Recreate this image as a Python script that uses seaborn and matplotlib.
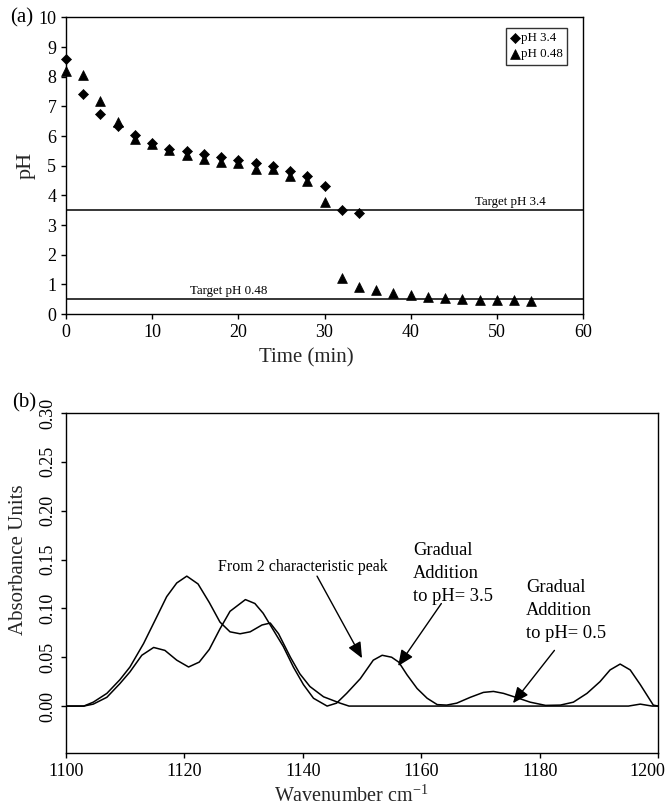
"""
Two-panel figure: (a) pH vs time for two titration targets,
(b) IR absorbance spectra for the two gradual additions.
"""
import numpy as np
import seaborn as sns
import matplotlib.pyplot as plt
from matplotlib.transforms import ScaledTranslation

# (a) pH vs time
TIME_34 = [0, 2, 4, 6, 8, 10, 12, 14, 16, 18, 20, 22, 24, 26, 28, 30, 32, 34]
PH_34 = [8.59, 7.41, 6.75, 6.35, 6.03, 5.76, 5.57, 5.51, 5.40, 5.29, 5.21,
         5.10, 4.99, 4.81, 4.65, 4.32, 3.51, 3.42]

TIME_048 = [0, 2, 4, 6, 8, 10, 12, 14, 16, 18, 20, 22, 24, 26, 28, 30,
            32, 34, 36, 38, 40, 42, 44, 46, 48, 50, 52, 54]
PH_048 = [8.19, 8.05, 7.19, 6.46, 5.91, 5.72, 5.54, 5.36, 5.22, 5.14, 5.08,
          4.88, 4.88, 4.66, 4.47, 3.79, 1.21, 0.91, 0.80, 0.71, 0.63, 0.58,
          0.54, 0.50, 0.48, 0.48, 0.47, 0.44]

TARGETS = [3.5, 0.5]
TARGET_LABELS = ["Target pH 3.4", "Target pH 0.48"]

# (b) spectra
WN_A = [1100, 1103, 1104.6, 1106.9, 1109.1, 1110.8, 1113.1, 1115.3, 1117.0,
        1118.7, 1120.4, 1122.3, 1124.2, 1126.0, 1127.7, 1129.4, 1131.1, 1133.1,
        1134.5, 1135.9, 1137.9, 1139.5, 1141.2, 1143.5, 1146.3, 1147.8, 1160,
        1180, 1195, 1197, 1199, 1200]
ABS_A = [0, 0, 0.004, 0.013, 0.027, 0.040, 0.064, 0.091, 0.112, 0.126, 0.133,
         0.125, 0.106, 0.086, 0.076, 0.074, 0.076, 0.083, 0.085, 0.074, 0.050,
         0.033, 0.020, 0.0095, 0.003, 0.0, 0.0, 0.0, 0.0, 0.002, 0.0, 0.0]

WN_B = [1100, 1103, 1104.6, 1106.9, 1109.1, 1110.8, 1112.8, 1114.8, 1116.7,
        1118.7, 1120.7, 1122.5, 1124.2, 1126.0, 1127.7, 1130.3, 1131.9, 1133.3,
        1135.0, 1136.7, 1138.4, 1140.1, 1141.8, 1144.1, 1145.7, 1147.4, 1149.7,
        1151.9, 1153.4, 1155.0, 1156.2, 1157.6, 1159.3, 1161.0, 1162.7, 1164.3,
        1166.0, 1168.3, 1170.5, 1172.2, 1173.9, 1176.2, 1178.4, 1181.0, 1183.5,
        1185.7, 1188.0, 1190.2, 1191.9, 1193.6, 1195.3, 1197.0, 1199.2, 1200]
ABS_B = [0, 0, 0.002, 0.009, 0.023, 0.035, 0.052, 0.060, 0.057, 0.047, 0.040,
         0.045, 0.058, 0.079, 0.097, 0.109, 0.105, 0.095, 0.078, 0.061, 0.040,
         0.022, 0.008, 0.0, 0.003, 0.013, 0.028, 0.047, 0.052, 0.050, 0.045,
         0.032, 0.018, 0.008, 0.0015, 0.001, 0.003, 0.009, 0.014, 0.015, 0.013,
         0.0085, 0.004, 0.0007, 0.001, 0.004, 0.013, 0.025, 0.037, 0.043, 0.037,
         0.022, 0.001, 0.0]


def style_axes(ax):
    for sp in ax.spines.values():
        sp.set_visible(True)
        sp.set_color("black")
        sp.set_linewidth(1.0)
    ax.tick_params(direction="out", length=3.5, width=1.0, color="black",
                   labelsize=13, labelcolor="black")


def main():
    sns.set_theme(style="ticks")
    plt.rcParams["font.family"] = ["Liberation Serif", "DejaVu Serif"]
    plt.rcParams["mathtext.default"] = "regular"
    plt.rcParams["text.color"] = "black"

    fig = plt.figure(figsize=(6.69, 8.06), dpi=100)
    ax1 = fig.add_axes([0.0987, 0.6104, 0.7728, 0.3679])
    ax2 = fig.add_axes([0.0987, 0.0658, 0.8849, 0.4218])

    # ---- panel (a)
    for y in TARGETS:
        ax1.axhline(y, color="black", lw=1.1, zorder=1)
    sns.scatterplot(x=TIME_34, y=PH_34, marker="D", s=26, color="black",
                    edgecolor="black", linewidth=0.5, label="pH 3.4",
                    clip_on=False, zorder=3, ax=ax1)
    sns.scatterplot(x=TIME_048, y=PH_048, marker="^", s=50, color="black",
                    edgecolor="black", linewidth=0.5, label="pH 0.48",
                    clip_on=False, zorder=3, ax=ax1)
    ax1.text(51.6, 3.78, TARGET_LABELS[0], fontsize=9.3, ha="center", va="center")
    ax1.text(18.9, 0.78, TARGET_LABELS[1], fontsize=9.3, ha="center", va="center")

    ax1.set_xlim(0, 60)
    ax1.set_ylim(0, 10)
    ax1.set_xticks(np.arange(0, 61, 10))
    ax1.set_yticks(np.arange(0, 11, 1))
    style_axes(ax1)
    ax1.set_xlabel("Time (min)", fontsize=15)
    ax1.set_ylabel("pH", fontsize=16)
    ax1.xaxis.set_label_coords(0.464, -0.115)
    ax1.yaxis.set_label_coords(-0.058, 0.5)
    leg = ax1.legend(loc="upper right", bbox_to_anchor=(0.969, 0.965),
                     fontsize=9.3, frameon=True, fancybox=False,
                     handlelength=0.6, handletextpad=0.15, borderpad=0.35,
                     labelspacing=0.3, borderaxespad=0)
    leg.get_frame().set_edgecolor("black")
    leg.get_frame().set_linewidth(1.0)

    # ---- panel (b)
    sns.lineplot(x=WN_A, y=ABS_A, color="black", lw=1.1, ax=ax2)
    sns.lineplot(x=WN_B, y=ABS_B, color="black", lw=1.1, ax=ax2)

    arrow = dict(arrowstyle="-|>,head_length=0.8,head_width=0.35",
                 color="black", lw=1.0, mutation_scale=12, shrinkA=0, shrinkB=0)
    ax2.text(1125.7, 0.142, "From 2 characteristic peak", fontsize=11.5,
             ha="left", va="center")
    ax2.annotate("", xy=(1150.0, 0.049), xytext=(1142.4, 0.133), arrowprops=arrow)
    ax2.text(1158.6, 0.136, "Gradual\nAddition\nto pH= 3.5", fontsize=13.3,
             ha="left", va="center", linespacing=1.45)
    ax2.annotate("", xy=(1156.1, 0.041), xytext=(1163.4, 0.105), arrowprops=arrow)
    ax2.text(1177.7, 0.098, "Gradual\nAddition\nto pH= 0.5", fontsize=13.3,
             ha="left", va="center", linespacing=1.45)
    ax2.annotate("", xy=(1175.5, 0.003), xytext=(1182.5, 0.057), arrowprops=arrow)

    ax2.set_xlim(1100, 1200)
    ax2.set_ylim(-0.048, 0.30)
    ax2.set_xticks(np.arange(1100, 1201, 20))
    ax2.set_yticks(np.arange(0, 0.31, 0.05))
    ax2.set_yticklabels([f"{v:.2f}" for v in np.arange(0, 0.31, 0.05)],
                        rotation=90, va="center")
    style_axes(ax2)
    # keep the last tick label inside the figure
    last = ax2.get_xticklabels()[-1]
    last.set_ha("right")
    last.set_transform(last.get_transform()
                       + ScaledTranslation(5 / 72, 0, fig.dpi_scale_trans))
    ax2.set_xlabel("Wavenumber cm$^{-1}$", fontsize=14.5)
    ax2.set_ylabel("Absorbance Units", fontsize=15)
    ax2.xaxis.set_label_coords(0.481, -0.095)
    ax2.yaxis.set_label_coords(-0.064, 0.568)

    fig.text(10 / 669, 1 - 18 / 806, "(a)", fontsize=15, ha="left", va="center")
    fig.text(12 / 669, 1 - 403 / 806, "(b)", fontsize=15, ha="left", va="center")

    fig.savefig("out.png", dpi=100)


if __name__ == "__main__":
    main()
